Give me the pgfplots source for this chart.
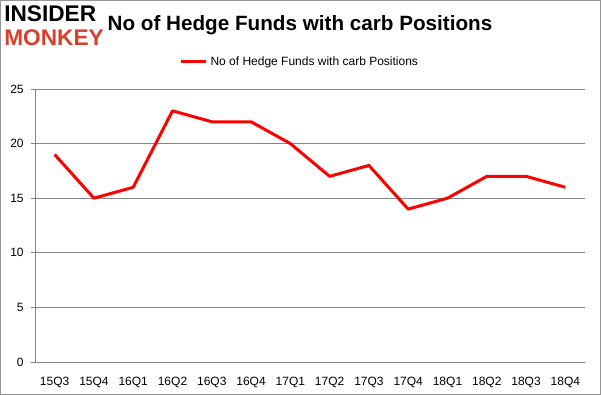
\documentclass[border=0pt]{standalone}
\usepackage{pgfplots}
\pgfplotsset{compat=1.18}
\usepackage{fontspec}
\setmainfont{Liberation Sans}
\definecolor{gridc}{RGB}{134,134,134}
\definecolor{framec}{RGB}{150,150,150}
\definecolor{monk}{RGB}{214,64,44}
\begin{document}
\begin{tikzpicture}[x=0.75pt,y=0.75pt]
\useasboundingbox (0,0) rectangle (601,395);
\draw[framec, line width=0.9pt] (0.6,0.6) rectangle (600.4,394.4);
\node[anchor=west, font=\bfseries\fontsize{17}{18}\selectfont, inner sep=0pt] at (4,381) {INSIDER};
\node[anchor=west, font=\bfseries\fontsize{17}{18}\selectfont, text=monk, inner sep=0pt] at (4,357) {MONKEY};
\node[font=\bfseries\fontsize{15.5}{17}\selectfont, inner sep=0pt] at (300,370) {No of Hedge Funds with carb Positions};
\begin{axis}[
  at={(26.25pt,24.75pt)}, anchor=south west,
  scale only axis, width=412.5pt, height=204.75pt,
  xmin=-0.5, xmax=13.5, ymin=0, ymax=25,
  axis x line*=bottom, axis y line*=left,
  axis line style={gridc, line width=0.6pt},
  xtick={0,...,13},
  xticklabels={15Q3,15Q4,16Q1,16Q2,16Q3,16Q4,17Q1,17Q2,17Q3,17Q4,18Q1,18Q2,18Q3,18Q4},
  minor xtick={-0.5,0.5,...,13.5},
  ytick={0,5,...,25},
  tick align=outside,
  major tick length=3pt, minor tick length=3pt,
  xtick style={draw=none},
  minor x tick style={gridc, line width=0.6pt},
  ytick style={gridc, line width=0.6pt},
  ymajorgrids, grid style={gridc, line width=0.6pt},
  tick label style={font=\fontsize{9}{10}\selectfont, text=black},
  /pgf/number format/assume math mode=true,
  xticklabel style={yshift=-5pt},
  yticklabel style={xshift=-2pt},
  legend style={at={(0.482,1.099)}, anchor=center, draw=none, fill=none,
    font=\fontsize{9}{10}\selectfont, legend columns=1},
  legend cell align=left,
  legend image code/.code={\draw[#1, line width=2.25pt] (0pt,0pt) -- (19pt,0pt);},
  clip=false,
]
\addplot[red, line width=2.25pt, line join=round] coordinates {
(0,19) (1,15) (2,16) (3,23) (4,22) (5,22) (6,20) (7,17) (8,18) (9,14) (10,15) (11,17) (12,17) (13,16)
};
\addlegendentry{No of Hedge Funds with carb Positions}
\end{axis}
\end{tikzpicture}
\end{document}
